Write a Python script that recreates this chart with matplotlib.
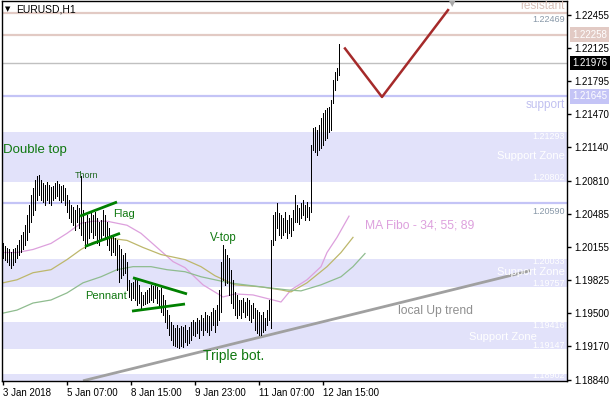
import matplotlib.pyplot as plt
import matplotlib.transforms as mtransforms

# EURUSD H1 bars (one per hour, index 0 = 3 Jan 23:00)
highs = [1.2019, 1.2016, 1.2014, 1.2013, 1.2011, 1.2013, 1.2014, 1.2017, 1.2022, 1.2027,
         1.2030, 1.2037, 1.2047, 1.2057, 1.2067, 1.2074, 1.2082, 1.2086, 1.2087, 1.2082,
         1.2079, 1.2077, 1.2080, 1.2077, 1.2075, 1.2076, 1.2079, 1.2081, 1.2078, 1.2076,
         1.2077, 1.2074, 1.2067, 1.2062, 1.2057, 1.2055, 1.2052, 1.2057, 1.2054, 1.2086,
         1.2052, 1.2040, 1.2047, 1.2044, 1.2049, 1.2047, 1.2050, 1.2044, 1.2040, 1.2042,
         1.2052, 1.2047, 1.2040, 1.2034, 1.2027, 1.2025, 1.2024, 1.2022, 1.2017, 1.2013,
         1.2008, 1.2010, 1.2001, 1.1983, 1.1980, 1.1981, 1.1985, 1.1983, 1.1978, 1.1971,
         1.1968, 1.1971, 1.1973, 1.1975, 1.1978, 1.1977, 1.1980, 1.1976, 1.1973, 1.1975,
         1.1968, 1.1963, 1.1953, 1.1948, 1.1941, 1.1938, 1.1935, 1.1938, 1.1935, 1.1937,
         1.1936, 1.1938, 1.1933, 1.1936, 1.1941, 1.1943, 1.1941, 1.1945, 1.1943, 1.1948,
         1.1945, 1.1951, 1.1948, 1.1947, 1.1951, 1.1955, 1.1953, 1.1958, 1.1973, 1.2001,
         1.2017, 1.2013, 1.2008, 1.2005, 1.1993, 1.1983, 1.1971, 1.1968, 1.1963, 1.1963,
         1.1965, 1.1961, 1.1965, 1.1963, 1.1958, 1.1960, 1.1955, 1.1953, 1.1951, 1.1948,
         1.1951, 1.1945, 1.1953, 1.1963, 1.2022, 1.2047, 1.2050, 1.2059, 1.2049, 1.2047,
         1.2044, 1.2050, 1.2042, 1.2047, 1.2044, 1.2052, 1.2067, 1.2057, 1.2054, 1.2059,
         1.2062, 1.2057, 1.2060, 1.2055, 1.2116, 1.2133, 1.2134, 1.2131, 1.2136, 1.2143,
         1.2148, 1.2151, 1.2153, 1.2154, 1.2161, 1.2181, 1.2189, 1.2193, 1.2216]
lows = [1.2005, 1.2003, 1.2001, 1.1998, 1.1995, 1.1998, 1.2001, 1.2005, 1.2008, 1.2011,
        1.2013, 1.2017, 1.2022, 1.2030, 1.2040, 1.2047, 1.2052, 1.2062, 1.2067, 1.2062,
        1.2060, 1.2057, 1.2062, 1.2059, 1.2057, 1.2062, 1.2064, 1.2066, 1.2062, 1.2060,
        1.2062, 1.2057, 1.2050, 1.2044, 1.2040, 1.2037, 1.2032, 1.2040, 1.2034, 1.2027,
        1.2022, 1.2014, 1.2019, 1.2024, 1.2030, 1.2024, 1.2027, 1.2019, 1.2017, 1.2022,
        1.2027, 1.2024, 1.2017, 1.2012, 1.2008, 1.2011, 1.2008, 1.1993, 1.1981, 1.1985,
        1.1988, 1.1990, 1.1973, 1.1966, 1.1963, 1.1965, 1.1963, 1.1958, 1.1960, 1.1955,
        1.1958, 1.1959, 1.1960, 1.1961, 1.1963, 1.1961, 1.1965, 1.1960, 1.1957, 1.1951,
        1.1948, 1.1941, 1.1935, 1.1928, 1.1923, 1.1918, 1.1917, 1.1916, 1.1915, 1.1917,
        1.1916, 1.1921, 1.1918, 1.1920, 1.1923, 1.1928, 1.1927, 1.1930, 1.1925, 1.1933,
        1.1928, 1.1933, 1.1931, 1.1928, 1.1933, 1.1938, 1.1931, 1.1938, 1.1943, 1.1951,
        1.1983, 1.1978, 1.1980, 1.1968, 1.1960, 1.1955, 1.1948, 1.1945, 1.1948, 1.1945,
        1.1951, 1.1946, 1.1948, 1.1943, 1.1941, 1.1945, 1.1933, 1.1930, 1.1928, 1.1928,
        1.1931, 1.1933, 1.1938, 1.1943, 1.1935, 1.2017, 1.2022, 1.2034, 1.2027, 1.2024,
        1.2027, 1.2030, 1.2024, 1.2029, 1.2026, 1.2032, 1.2040, 1.2040, 1.2038, 1.2044,
        1.2047, 1.2042, 1.2045, 1.2042, 1.2050, 1.2111, 1.2110, 1.2107, 1.2111, 1.2113,
        1.2116, 1.2121, 1.2123, 1.2129, 1.2131, 1.2158, 1.2171, 1.2181, 1.2186]

# moving averages (Fibo 34 / 55 / 89), read at a few bars
ma34_x = [0, 7, 15, 24, 32, 39, 45, 52, 62, 69, 77, 85, 91, 100, 110, 116, 125, 131, 139, 144, 152, 159, 162, 167, 173]
ma34_y = [1.2010, 1.2010, 1.2013, 1.2019, 1.2029, 1.2039, 1.2041, 1.2041, 1.2037, 1.2029, 1.2015, 1.2001, 1.1995,
          1.1978, 1.1966, 1.1969, 1.1968, 1.1965, 1.1961, 1.1973, 1.1983, 1.1996, 1.2010, 1.2025, 1.2046]
ma55_x = [0, 7, 15, 24, 32, 39, 45, 54, 62, 70, 79, 91, 99, 106, 116, 129, 139, 144, 152, 162, 169, 175]
ma55_y = [1.1980, 1.1983, 1.1990, 1.1993, 1.2003, 1.2013, 1.2020, 1.2024, 1.2022, 1.2015, 1.2008, 1.2003, 1.1996,
          1.1987, 1.1978, 1.1976, 1.1973, 1.1971, 1.1980, 1.1996, 1.2010, 1.2025]
ma89_x = [0, 7, 15, 24, 32, 40, 49, 57, 65, 74, 82, 91, 99, 113, 129, 142, 149, 159, 169, 175, 181]
ma89_y = [1.1950, 1.1953, 1.1960, 1.1963, 1.1970, 1.1980, 1.1986, 1.1993, 1.1996, 1.1996, 1.1993, 1.1991, 1.1986,
          1.1980, 1.1976, 1.1973, 1.1972, 1.1978, 1.1986, 1.1996, 1.2009]

# drawn objects
flag_up = ([38.5, 57], [1.2046, 1.2060])
flag_low = ([41, 58.5], [1.2016, 1.2029])
pennant_up = ([65, 92], [1.1985, 1.1969])
pennant_low = ([64.5, 91], [1.1952, 1.1959])
trend = ([40, 263.5], [1.1883, 1.1992])
forecast_x = [171, 189.5, 222.5]
forecast_y = [1.2212, 1.2164, 1.2250]

resistant = [1.22469, 1.22258]
last_price = 1.21976
supports = [1.21645, 1.20590]
zones = [(1.20802, 1.21293), (1.19757, 1.20033), (1.19147, 1.19416), (1.18000, 1.18902)]

time_ticks = [0, 32, 64, 96, 128, 160]
time_labels = ['3 Jan 2018', '5 Jan 07:00', '8 Jan 15:00', '9 Jan 23:00', '11 Jan 07:00', '12 Jan 15:00']
price_ticks = [1.22455, 1.22125, 1.21795, 1.21470, 1.21140, 1.20810, 1.20485, 1.20155,
               1.19825, 1.19500, 1.19170, 1.18840]

W, H = 610, 400
fig = plt.figure(figsize=(6.1, 4.0), dpi=100)
ax = fig.add_axes([2 / W, 19 / H, 565 / W, 380 / H])
ax.set_xlim(-0.5, 282)
ax.set_ylim(1.18828, 1.22590)

zone_col = '#e2e2fa'
sup_col = '#c4c4f6'
res_col = '#e2cac4'

for lo, hi in zones:
    ax.axhspan(lo, hi, color=zone_col, lw=0, zorder=0)
for r in resistant:
    ax.axhline(r, color=res_col, lw=1.6, zorder=1)
for s in supports:
    ax.axhline(s, color=sup_col, lw=1.6, zorder=1)
ax.axhline(last_price, color='#c0c0c0', lw=1, zorder=1)

ax.plot(*trend, color='#a0a0a0', lw=2, zorder=2, solid_capstyle='butt')
ax.plot(ma34_x, ma34_y, color='#dda0dd', lw=0.9, zorder=2)
ax.plot(ma55_x, ma55_y, color='#bdb76b', lw=0.9, zorder=2)
ax.plot(ma89_x, ma89_y, color='#8fbc8f', lw=0.9, zorder=2)

ax.vlines(range(len(highs)), lows, highs, color='black', lw=0.5, zorder=3,
          antialiased=False)

for seg in (flag_up, flag_low, pennant_up, pennant_low):
    ax.plot(*seg, color='#008000', lw=2, zorder=4, solid_capstyle='butt')
ax.plot(forecast_x, forecast_y, color='#a52a2a', lw=1.8, zorder=4)

# axes styling
ax.yaxis.tick_right()
ax.set_yticks(price_ticks)
ax.set_yticklabels(['%.5f' % p for p in price_ticks])
ax.set_xticks(time_ticks)
ax.set_xticklabels(time_labels, ha='left')
ax.tick_params(axis='both', length=3, width=1, labelsize=7, pad=2, colors='black')
for lab in ax.get_xticklabels() + ax.get_yticklabels():
    lab.set_fontfamily('Liberation Sans')
for sp in ax.spines.values():
    sp.set_linewidth(1)

# price tags on the scale
tr = mtransforms.blended_transform_factory(ax.transAxes, ax.transData)
tags = [(resistant[1], res_col), (last_price, 'black'), (supports[0], sup_col)]
for val, col in tags:
    ax.text(1.0 + 5 / 565, val, '%.5f' % val, transform=tr, ha='left', va='center',
            fontsize=7, family='Liberation Sans', color='white', zorder=10, clip_on=False,
            bbox=dict(boxstyle='square,pad=0.25', fc=col, ec='none'))


def px(x, y):
    return x / W, 1 - y / H


def label(x, y, s, size, color, ha='left'):
    fig.text(*px(x, y), s, fontsize=size, color=color, ha=ha, va='center',
             family='Liberation Sans')


fig.text(*px(5, 9), '\u25bc', fontsize=5, color='black', va='center')
label(16, 9, 'EURUSD,H1', 7.5, 'black')

label(565, 6, 'resistant', 8.5, '#d8c0b8', ha='right')
label(565, 20, '1.22469', 6.5, '#8898a8', ha='right')
label(565, 105, 'support', 8.5, '#c0c0f0', ha='right')
label(565, 211, '1.20590', 6.5, '#8898a8', ha='right')

label(565, 136, '1.21293', 6.5, 'white', ha='right')
label(565, 156, 'Support Zone', 8, 'white', ha='right')
label(565, 177, '1.20802', 6.5, 'white', ha='right')
label(565, 262, '1.20033', 6.5, 'white', ha='right')
label(565, 272, 'Support Zone', 8, 'white', ha='right')
label(565, 283, '1.19757', 6.5, 'white', ha='right')
label(565, 326, '1.19416', 6.5, 'white', ha='right')
label(537, 337, 'Support Zone', 8, 'white', ha='right')
label(565, 346, '1.19147', 6.5, 'white', ha='right')
label(565, 376, '1.18902', 6.5, 'white', ha='right')

label(3, 150, 'Double top', 9.5, '#107810')
label(75, 176, 'Thorn', 6.5, '#206820')
label(113, 214, 'Flag', 8, '#107810')
label(85, 296, 'Pennant', 8, '#107810')
label(210, 238, 'V-top', 8.3, '#107810')
label(203, 356, 'Triple bot.', 10, '#107810')
label(398, 311, 'local Up trend', 8.7, '#909090')
label(365, 226, 'MA Fibo - 34; 55; 89', 8.7, '#dda0dd')

# shift marker at the top
fig.text(*px(452, 4), '\u25bc', fontsize=6, color='#a8a8a8', ha='center', va='center')

plt.savefig('out.png', dpi=100)
